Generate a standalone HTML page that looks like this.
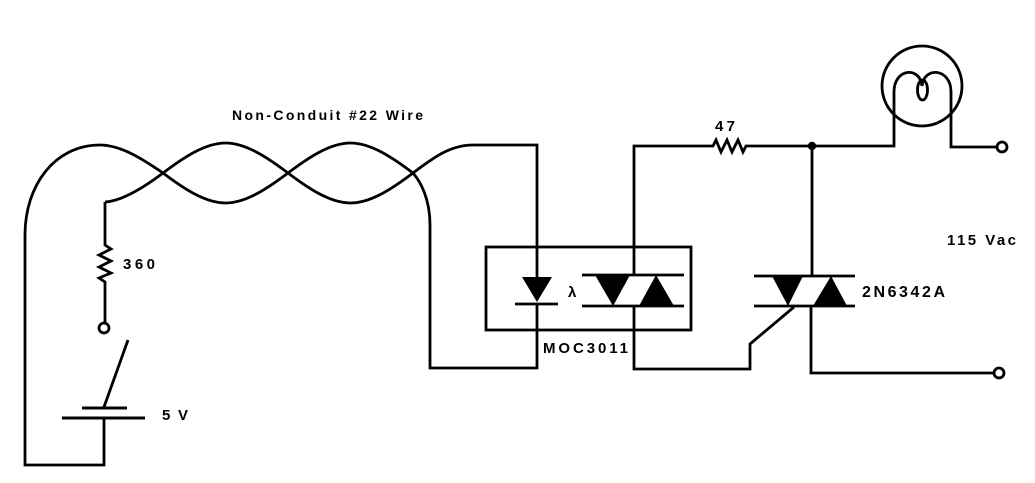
<!DOCTYPE html>
<html>
<head>
<meta charset="utf-8">
<style>
  html, body { margin: 0; padding: 0; background: #fff; }
  body { width: 1035px; height: 483px; overflow: hidden; }
  svg { display: block; }
  text { font-family: "Liberation Sans", "DejaVu Sans", sans-serif; fill: #000; font-weight: bold; }
</style>
</head>
<body>
<svg width="1035" height="483" viewBox="0 0 1035 483" xmlns="http://www.w3.org/2000/svg">
  <g fill="none" stroke="#000" stroke-width="2.8" stroke-linejoin="miter" stroke-linecap="butt">
    <path d="M 104 418 V 465 H 25 V 235
             C 25 185, 55 145, 100 145
             C 120.4 145, 142.1 158.6, 163 173
             C 183.4 188.4, 205.1 203, 225.5 203
             C 245.9 203, 267.6 188.4, 288 173
             C 308.4 157.6, 330.1 143, 350.5 143
             C 370.9 143, 392.6 157.6, 413 173
             C 420 181, 430 198, 430 225
             V 368 H 537 V 304"/>
    <path d="M 105 202
             C 122 201, 142.6 188.4, 163 173
             C 183.4 157.6, 205.1 143, 225.5 143
             C 245.9 143, 267.6 157.6, 288 173
             C 308.4 188.4, 330.1 203, 350.5 203
             C 370.9 203, 392.6 188.4, 413 173
             C 433 158, 450 145, 473 145
             H 537 V 277"/>
    <path d="M 105 202 V 245 L 111 249 L 99 255 L 111 261 L 99 267 L 111 273 L 99 278 L 105 282 V 323"/>
    <circle cx="104" cy="328" r="5" fill="#fff"/>
    <line x1="104" y1="407" x2="128" y2="340"/>
    <line x1="82" y1="408" x2="127" y2="408" stroke-width="3"/>
    <line x1="62" y1="418" x2="145" y2="418" stroke-width="3"/>

    <rect x="486" y="247" width="205" height="83"/>
    <line x1="515" y1="304" x2="558" y2="304"/>

    <line x1="582" y1="275" x2="684" y2="275"/>
    <line x1="582" y1="306" x2="684" y2="306"/>
    <path d="M 634 275 V 146 H 710 L 713 146 L 716 140 L 721 152 L 727 140 L 732 152 L 738 140 L 743 152 L 746 146 H 894 V 92"/>
    <path d="M 634 306 V 369 H 750 V 344 L 794 307"/>

    <line x1="754" y1="276" x2="855" y2="276"/>
    <line x1="754" y1="306" x2="855" y2="306"/>
    <path d="M 812 146 V 276"/>
    <path d="M 811 306 V 373 H 994"/>
    <circle cx="999" cy="373" r="5" fill="#fff"/>

    <circle cx="922" cy="86" r="40"/>
    <path d="M 894 92 C 894 68, 920 66, 922 86"/>
    <path d="M 922 86 C 924 66, 951 68, 951 92 V 147 H 997"/>
    <ellipse cx="922.5" cy="90" rx="5" ry="10"/>
    <circle cx="1002" cy="147" r="5" fill="#fff"/>
  </g>

  <g fill="#000" stroke="none">
    <polygon points="522,277 552,277 537,302"/>
    <polygon points="595,275 630,275 613,306"/>
    <polygon points="639,306 674,306 656,275"/>
    <polygon points="772,276 803,276 788,306"/>
    <polygon points="813,306 847,306 831,276"/>
    <circle cx="812" cy="146" r="4.2"/>
  </g>

  <text x="232" y="120" font-size="14" font-weight="normal" textLength="191" lengthAdjust="spacing">Non-Conduit #22 Wire</text>
  <text x="123" y="269" font-size="15" textLength="32" lengthAdjust="spacing">360</text>
  <text x="162" y="420" font-size="15" textLength="26" lengthAdjust="spacing">5 V</text>
  <text x="543" y="353" font-size="15" textLength="85" lengthAdjust="spacing">MOC3011</text>
  <text x="568" y="297" font-size="15">λ</text>
  <text x="715" y="131" font-size="15" textLength="20" lengthAdjust="spacing">47</text>
  <text x="947" y="245" font-size="15" textLength="69" lengthAdjust="spacing">115 Vac</text>
  <text x="862" y="297" font-size="16" textLength="83" lengthAdjust="spacing">2N6342A</text>
</svg>
</body>
</html>
